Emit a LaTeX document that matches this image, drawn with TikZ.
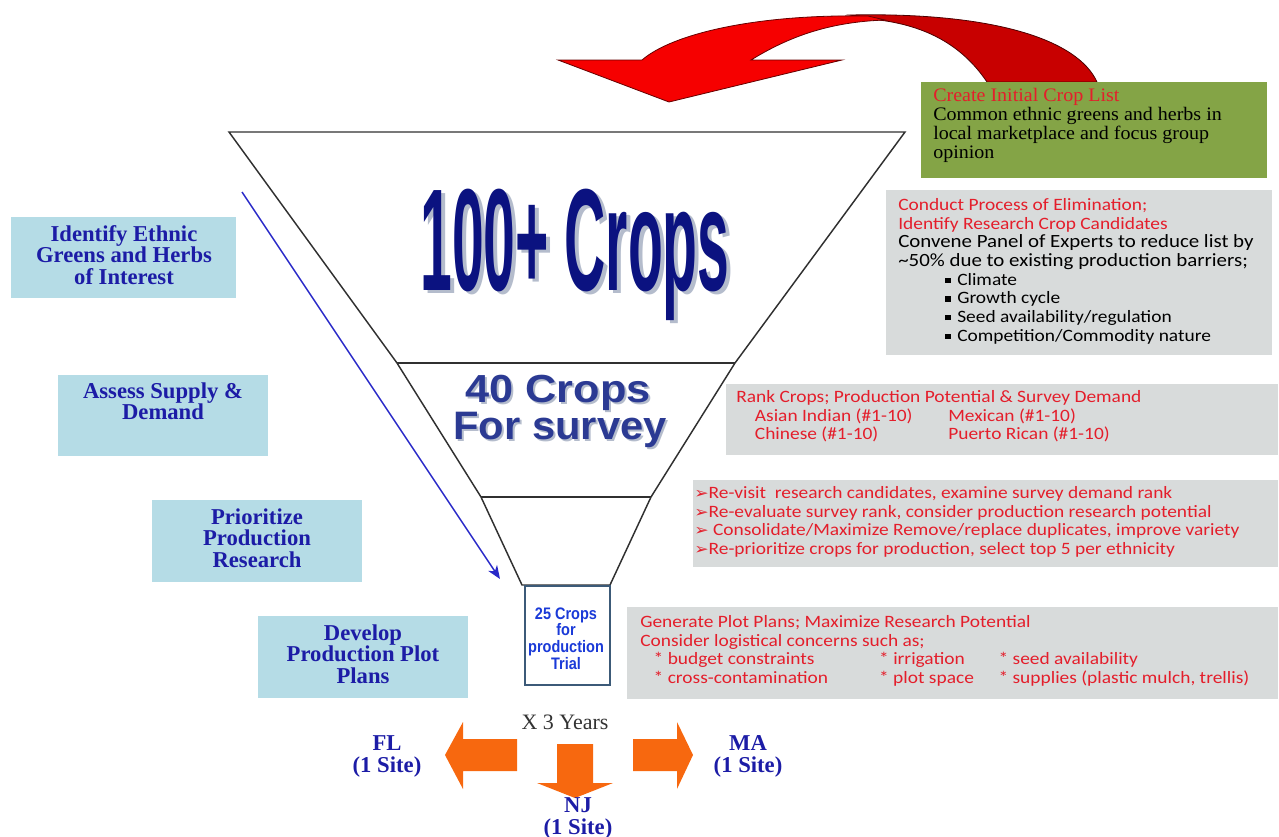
\documentclass[tikz,border=0pt]{standalone}
\usepackage{fontspec}
\setmainfont{Liberation Serif}
\newfontfamily\carl{Carlito}
\newfontfamily\arl{Liberation Sans}
\newfontfamily\dvs{DejaVu Sans}
\usetikzlibrary{arrows.meta}
\definecolor{boxblue}{HTML}{B5DCE6}
\definecolor{txtblue}{HTML}{1C1CA6}
\definecolor{grayfill}{HTML}{D8DBDB}
\definecolor{greenfill}{HTML}{84A446}
\definecolor{redtxt}{HTML}{E41E2B}
\definecolor{navy}{HTML}{0B1280}
\definecolor{navytwo}{HTML}{2B3A93}
\definecolor{shadowc}{HTML}{B4BCCC}
\definecolor{trialblue}{HTML}{1A3AD8}
\definecolor{trialedge}{HTML}{3C5A78}
\definecolor{orng}{HTML}{F7680F}
\definecolor{redfront}{HTML}{F60000}
\definecolor{redback}{HTML}{C80000}
\definecolor{funnelc}{HTML}{303030}
\newcommand{\blt}{\raisebox{1.6pt}{\rule{4pt}{4pt}}\hspace{4.5pt}}
\newcommand{\arw}{{\dvs\fontsize{11.5}{14}\selectfont ➢}}
\newcommand{\glines}[1]{\scalebox{1.12}[1]{\begin{tabular}{@{}l@{}}#1\end{tabular}}}
\newcommand{\tlines}[1]{\scalebox{0.87}[1]{\begin{tabular}{@{}c@{}}#1\end{tabular}}}
\tikzset{
  panel/.style={draw=none, inner sep=0, anchor=north west},
  bluebox/.style={panel, fill=boxblue},
  graybox/.style={panel, fill=grayfill},
  greenbox/.style={panel, fill=greenfill},
  stagetext/.style={inner sep=0, anchor=north, align=center, text=txtblue,
    font=\bfseries\fontsize{17}{16.2}\selectfont},
  graytext/.style={inner sep=0, anchor=north west,
    font=\carl\fontsize{13}{14}\selectfont},
  sitetext/.style={inner sep=0, align=center, text=txtblue,
    font=\bfseries\fontsize{17}{16.5}\selectfont},
  funnelline/.style={draw=funnelc, line width=1.1pt, line join=miter},
  blueline/.style={draw={rgb,255:red,40;green,40;blue,200}, line width=1.1pt,
    -{Stealth[length=10pt,width=8pt,inset=3pt]}},
  orangearrow/.style={fill=orng, draw=none},
}
\begin{document}
\begin{tikzpicture}[x=0.75pt,y=-0.75pt]
\useasboundingbox (0,0) rectangle (1279,836);

% ---------- red curved arrow ----------
\fill[redback, draw=black!70!red, line width=0.6pt]
  (850,15) .. controls (995,12) and (1078,40) .. (1097,82)
  -- (987,82) .. controls (962,45) and (925,24) .. (870,19) -- cycle;
\fill[redfront, draw=black!60!red, line width=0.6pt]
  (868,16) .. controls (755,14) and (672,34) .. (642,60)
  -- (558,60) -- (669,102) -- (842,60) -- (751,60)
  .. controls (790,36) and (830,22) .. (885,20) -- cycle;

% ---------- funnel ----------
\coordinate (ftl) at (229,132);
\coordinate (ftr) at (905,132);
\coordinate (fm1l) at (397,363);
\coordinate (fm1r) at (735,363);
\coordinate (fm2l) at (481,497);
\coordinate (fm2r) at (651,497);
\coordinate (fbl) at (522,585);
\coordinate (fbr) at (610,585);
\draw[funnelline, fill=white] (ftl) -- (ftr) -- (fm1r) -- (fm2r) -- (fbr)
  -- (fbl) -- (fm2l) -- (fm1l) -- cycle;
\draw[funnelline] (fm1l) -- (fm1r);
\draw[funnelline] (fm2l) -- (fm2r);

% ---------- funnel texts ----------
\node[inner sep=0, anchor=base, text=shadowc] (crops100s) at (579,293)
  {\resizebox{232pt}{76pt}{\arl\bfseries 100+ Crops}};
\node[inner sep=0, anchor=base, text=navy] (crops100) at (575,290)
  {\resizebox{232pt}{76pt}{\arl\bfseries 100+ Crops}};
\node[inner sep=0, anchor=base, text=shadowc] (crops40s) at (560,404)
  {\resizebox{139pt}{20.5pt}{\arl\bfseries 40 Crops}};
\node[inner sep=0, anchor=base, text=navytwo] (crops40) at (558,402)
  {\resizebox{139pt}{20.5pt}{\arl\bfseries 40 Crops}};
\node[inner sep=0, anchor=base, text=shadowc] (surveys) at (562,441)
  {\resizebox{160pt}{20.5pt}{\arl\bfseries For survey}};
\node[inner sep=0, anchor=base, text=navytwo] (survey) at (560,439)
  {\resizebox{160pt}{20.5pt}{\arl\bfseries For survey}};

% ---------- trial box ----------
\node[draw=trialedge, line width=1.6pt, fill=white, anchor=north west,
  minimum width={85*0.75pt}, minimum height={99*0.75pt}, inner sep=0]
  (trialbox) at (524,585) {};
\node[inner sep=0, text=trialblue,
  font=\arl\bfseries\fontsize{12.5}{12}\selectfont] (trialtext) at (566,641)
  {\tlines{25 Crops\\for\\production\\Trial}};

% ---------- blue arrow ----------
\coordinate (bstart) at (242,192);
\coordinate (bend) at (500,579);
\draw[blueline] (bstart) -- (bend);

% ---------- left stage boxes ----------
\node[bluebox, minimum width={225*0.75pt}, minimum height={81*0.75pt}] (s1) at (11,217) {};
\node[bluebox, minimum width={210*0.75pt}, minimum height={81*0.75pt}] (s2) at (58,375) {};
\node[bluebox, minimum width={210*0.75pt}, minimum height={82*0.75pt}] (s3) at (152,500) {};
\node[bluebox, minimum width={210*0.75pt}, minimum height={82*0.75pt}] (s4) at (258,616) {};
\node[stagetext] (s1t) at (124,225) {Identify Ethnic\\Greens and Herbs\\of Interest};
\node[stagetext] (s2t) at (163,382) {Assess Supply \&\\Demand};
\node[stagetext] (s3t) at (257,508) {Prioritize\\Production\\Research};
\node[stagetext] (s4t) at (363,624) {Develop\\Production Plot\\Plans};

% ---------- right panels ----------
\node[greenbox, minimum width={346*0.75pt}, minimum height={96*0.75pt}] (g1) at (921,82) {};
\node[inner sep=0, anchor=north west,
  font=\fontsize{14.3}{14}\selectfont] (g1t) at (933,88)
  {\scalebox{1.05}[1]{\begin{tabular}{@{}l@{}}
   {\color{redtxt}Create Initial Crop List}\\
   Common ethnic greens and herbs in\\
   local marketplace and focus group\\
   opinion\end{tabular}}};

\node[graybox, minimum width={386*0.75pt}, minimum height={165*0.75pt}] (p1) at (886,190) {};
\node[graytext] (p1t) at (898,197)
  {\glines{{\color{redtxt}Conduct Process of Elimination;}\\
   {\color{redtxt}Identify Research Crop Candidates}\\
   {\fontsize{14}{14}\selectfont Convene Panel of Experts to reduce list by}\\
   {\fontsize{14}{14}\selectfont\textasciitilde 50\% due to existing production barriers;}\\
   \hspace*{31pt}\blt Climate\\
   \hspace*{31pt}\blt Growth cycle\\
   \hspace*{31pt}\blt Seed availability/regulation\\
   \hspace*{31pt}\blt Competition/Commodity nature}};

\node[graybox, minimum width={552*0.75pt}, minimum height={71*0.75pt}] (p2) at (726,384) {};
\node[graytext, text=redtxt] (p2t) at (736,389)
  {\glines{Rank Crops; Production Potential \& Survey Demand\\
   \hspace*{12.5pt}\makebox[129.5pt][l]{Asian Indian (\#1-10)}Mexican (\#1-10)\\
   \hspace*{12.5pt}\makebox[129.5pt][l]{Chinese (\#1-10)}Puerto Rican (\#1-10)}};

\node[graybox, minimum width={585*0.75pt}, minimum height={87*0.75pt}] (p3) at (693,480) {};
\node[graytext, text=redtxt] (p3t) at (694,485)
  {\glines{\arw Re-visit\ \ research candidates, examine survey demand rank\\
   \arw Re-evaluate survey rank, consider production research potential\\
   \arw\ Consolidate/Maximize Remove/replace duplicates, improve variety\\
   \arw Re-prioritize crops for production, select top 5 per ethnicity}};

\node[graybox, minimum width={651*0.75pt}, minimum height={92*0.75pt}] (p4) at (627,607) {};
\node[graytext, text=redtxt] (p4t) at (640,614)
  {\glines{Generate Plot Plans; Maximize Research Potential\\
   Consider logistical concerns such as;\\
   \hspace*{9pt}\makebox[151pt][l]{* budget constraints}\makebox[80pt][l]{* irrigation}* seed availability\\
   \hspace*{9pt}\makebox[151pt][l]{* cross-contamination}\makebox[80pt][l]{* plot space}* supplies (plastic mulch, trellis)}};

% ---------- bottom ----------
\node[inner sep=0, text=black!80, font=\fontsize{16.5}{16}\selectfont] (years) at (565,722) {X 3 Years};
\fill[orangearrow] (517,739) -- (463,739) -- (463,722) -- (445,755) -- (463,789)
  -- (463,771) -- (517,771) -- cycle;
\fill[orangearrow] (633,739) -- (677,739) -- (677,722) -- (693,755) -- (677,789)
  -- (677,771) -- (633,771) -- cycle;
\fill[orangearrow] (557,744) -- (593,744) -- (593,783) -- (613,783) -- (575,798)
  -- (537,783) -- (557,783) -- cycle;
\node[sitetext] (fl) at (387,756) {FL\\(1 Site)};
\node[sitetext] (ma) at (748,756) {MA\\(1 Site)};
\node[sitetext] (nj) at (578,818) {NJ\\(1 Site)};
\end{tikzpicture}
\end{document}
